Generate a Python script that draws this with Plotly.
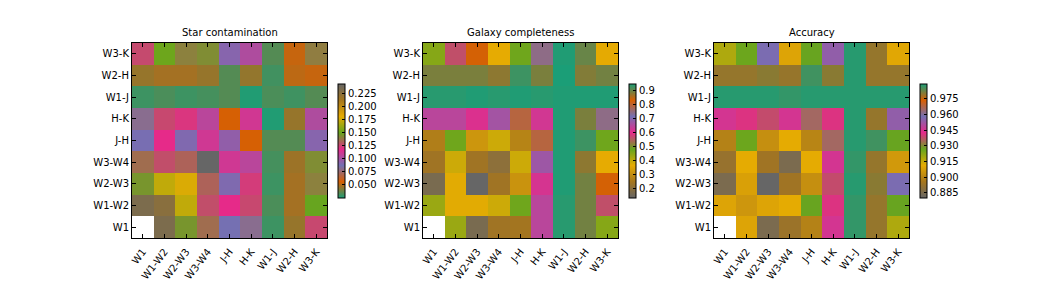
import plotly.graph_objects as go

labels = ["W1", "W1-W2", "W2-W3", "W3-W4", "J-H", "H-K", "W1-J", "W2-H", "W3-K"]
rows_top_down = ["W3-K", "W2-H", "W1-J", "H-K", "J-H", "W3-W4", "W2-W3", "W1-W2", "W1"]

star_contamination = [
    [0.126, 0.151, 0.140, 0.143, 0.091, 0.102, 0.0325, 0.0514, 0.139],
    [0.0435, 0.0457, 0.0457, 0.0435, 0.0325, 0.043, 0.0293, 0.0498, 0.0514],
    [0.0287, 0.0309, 0.0287, 0.030, 0.0325, 0.024, 0.031, 0.029, 0.0325],
    [0.0798, 0.1256, 0.121, 0.105, 0.054, 0.1114, 0.024, 0.0435, 0.102],
    [0.087, 0.118, 0.0893, 0.111, 0.094, 0.054, 0.0325, 0.0325, 0.091],
    [0.135, 0.127, 0.132, 0.244, 0.111, 0.105, 0.030, 0.0445, 0.143],
    [0.145, 0.1715, 0.178, 0.132, 0.089, 0.1225, 0.0287, 0.0457, 0.140],
    [0.233, 0.2266, 0.1715, 0.127, 0.118, 0.1256, 0.031, 0.0457, 0.149],
    [None, 0.233, 0.145, 0.135, 0.086, 0.0798, 0.0287, 0.0435, 0.1256],
]

galaxy_completeness = [
    [0.449, 0.559, 0.830, 0.362, 0.470, 0.740, 0.940, 0.896, 0.360],
    [0.885, 0.885, 0.885, 0.873, 0.922, 0.885, 0.943, 0.880, 0.890],
    [0.935, 0.935, 0.940, 0.935, 0.940, 0.935, 0.940, 0.940, 0.940],
    [0.641, 0.641, 0.606, 0.664, 0.786, 0.617, 0.940, 0.885, 0.740],
    [0.263, 0.470, 0.315, 0.385, 0.275, 0.786, 0.940, 0.922, 0.470],
    [0.234, 0.385, 0.234, 0.199, 0.385, 0.670, 0.940, 0.873, 0.362],
    [0.164, 0.365, 0.129, 0.234, 0.309, 0.612, 0.940, 0.890, 0.830],
    [0.431, 0.365, 0.365, 0.385, 0.470, 0.641, 0.935, 0.890, 0.559],
    [None, 0.431, 0.164, 0.234, 0.240, 0.641, 0.935, 0.890, 0.449],
]

accuracy = [
    [0.918, 0.926, 0.957, 0.909, 0.927, 0.954, 0.988, 0.979, 0.910],
    [0.979, 0.979, 0.980, 0.9789, 0.986, 0.980, 0.988, 0.979, 0.979],
    [0.988, 0.988, 0.988, 0.987, 0.988, 0.988, 0.988, 0.988, 0.988],
    [0.945, 0.941, 0.938, 0.945, 0.965, 0.941, 0.988, 0.979, 0.954],
    [0.899, 0.926, 0.903, 0.911, 0.900, 0.965, 0.988, 0.986, 0.927],
    [0.892, 0.911, 0.894, 0.885, 0.911, 0.945, 0.987, 0.979, 0.906],
    [0.885, 0.908, 0.880, 0.894, 0.903, 0.938, 0.988, 0.980, 0.957],
    [0.909, 0.905, 0.909, 0.911, 0.927, 0.941, 0.987, 0.979, 0.927],
    [None, 0.909, 0.885, 0.893, 0.899, 0.945, 0.987, 0.979, 0.918],
]

titles = ["Star contamination", "Galaxy completeness", "Accuracy"]
zranges = [(0.023, 0.244), (0.129, 0.943), (0.880, 0.989)]
cb_ticks = [
    [0.050, 0.075, 0.100, 0.125, 0.150, 0.175, 0.200, 0.225],
    [0.2, 0.3, 0.4, 0.5, 0.6, 0.7, 0.8, 0.9],
    [0.885, 0.900, 0.915, 0.930, 0.945, 0.960, 0.975],
]
cb_formats = [".3f", ".1f", ".3f"]

dark2 = ["#1b9e77", "#d95f02", "#7570b3", "#e7298a", "#66a61e", "#e6ab02", "#a6761d", "#666666"]
scale = [[i / 7, c] for i, c in enumerate(dark2)]
scale_r = [[i / 7, c] for i, c in enumerate(dark2[::-1])]
scales = [scale, scale_r, scale_r]

W, H = 1063, 283
left_px = [132, 423, 714]
size_px = 195
top_px = 43
cb_left_px = [338, 629, 920]
FONT = "DejaVu Sans"
FS = 10

fig = go.Figure()
datasets = [star_contamination, galaxy_completeness, accuracy]
for i in range(3):
    xa = "x" if i == 0 else f"x{i+1}"
    ya = "y" if i == 0 else f"y{i+1}"
    fig.add_trace(go.Heatmap(
        z=datasets[i], x=labels, y=rows_top_down,
        xaxis=xa, yaxis=ya,
        zmin=zranges[i][0], zmax=zranges[i][1],
        colorscale=scales[i], hoverongaps=False,
        colorbar=dict(
            x=cb_left_px[i] / W, xanchor="left", xpad=0, ypad=0,
            y=1 - 141 / H, yanchor="middle",
            len=114, lenmode="pixels", thickness=7, thicknessmode="pixels",
            outlinewidth=1, outlinecolor="black", borderwidth=0,
            tickvals=cb_ticks[i], tickformat=cb_formats[i],
            ticks="inside", ticklen=3, tickcolor="black",
            tickfont=dict(family=FONT, size=FS, color="black"),
        ),
    ))
    dom_x = [left_px[i] / W, (left_px[i] + size_px) / W]
    dom_y = [1 - (top_px + size_px) / H, 1 - top_px / H]
    axcommon = dict(showline=True, linecolor="black", linewidth=1, mirror="ticks",
                    ticks="inside", ticklen=4, tickcolor="black", showgrid=False,
                    zeroline=False, automargin=False,
                    tickfont=dict(family=FONT, size=FS, color="black"))
    xkey = "xaxis" if i == 0 else f"xaxis{i+1}"
    ykey = "yaxis" if i == 0 else f"yaxis{i+1}"
    fig.update_layout(**{
        xkey: dict(domain=dom_x, anchor=ya, tickangle=-52, ticklabelstandoff=3, **axcommon),
        ykey: dict(domain=dom_y, anchor=xa, autorange="reversed", **axcommon),
    })
    fig.add_annotation(
        text=titles[i], xref="paper", yref="paper",
        x=(left_px[i] + size_px / 2) / W, y=1 - (top_px - 3) / H,
        xanchor="center", yanchor="bottom", showarrow=False,
        font=dict(family=FONT, size=FS, color="black"),
    )

fig.update_layout(
    template="none",
    width=W, height=H, margin=dict(l=0, r=0, t=0, b=0, autoexpand=False),
    paper_bgcolor="white", plot_bgcolor="white",
    font=dict(family=FONT, size=FS, color="black"),
)
fig.write_html(
    "out.html",
    config={"displayModeBar": False},
    post_script="document.body.style.margin='0';document.body.style.overflow='hidden';",
)
